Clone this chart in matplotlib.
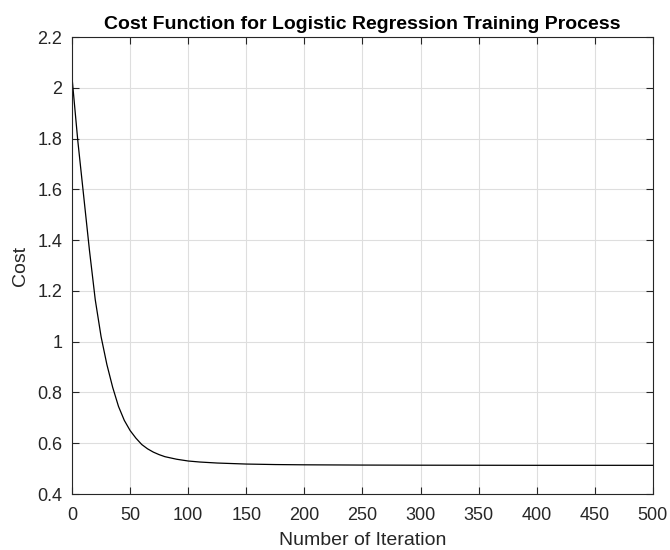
import matplotlib
matplotlib.use("Agg")
import matplotlib.pyplot as plt

plt.rcParams['font.family'] = ['Liberation Sans', 'DejaVu Sans']

# Training cost recorded at selected iterations
iterations = [0, 5, 10, 15, 20, 25, 30, 35, 40, 45, 50, 55, 60, 65, 70, 75, 80,
              90, 100, 110, 125, 150, 175, 200, 250, 300, 400, 500]
cost = [2.04, 1.79, 1.575, 1.36, 1.165, 1.02, 0.91, 0.82, 0.745, 0.69, 0.65,
        0.62, 0.595, 0.578, 0.565, 0.555, 0.547, 0.537, 0.530, 0.526, 0.522,
        0.518, 0.516, 0.515, 0.514, 0.5135, 0.513, 0.513]

xticks = [0, 50, 100, 150, 200, 250, 300, 350, 400, 450, 500]
yticks = [0.4, 0.6, 0.8, 1.0, 1.2, 1.4, 1.6, 1.8, 2.0, 2.2]
ytick_labels = ['0.4', '0.6', '0.8', '1', '1.2', '1.4', '1.6', '1.8', '2', '2.2']

fig = plt.figure(figsize=(6.7, 5.5), dpi=100)
ax = fig.add_axes([0.1075, 0.1018, 0.867, 0.8309])

ax.plot(iterations, cost, color='black', linewidth=0.9)

ax.set_xlim(0, 500)
ax.set_ylim(0.4, 2.2)
ax.set_xticks(xticks)
ax.set_yticks(yticks)
ax.set_yticklabels(ytick_labels)

edge = '#262626'
for s in ax.spines.values():
    s.set_color(edge)
    s.set_linewidth(0.8)
ax.tick_params(direction='in', length=5, width=0.8, color=edge,
               labelcolor='#262626', labelsize=13,
               top=True, right=True)
ax.tick_params(axis='x', pad=9.5)
ax.tick_params(axis='y', pad=7)
ax.grid(True, color='#dedede', linewidth=0.8)
ax.set_axisbelow(True)

ax.set_title('Cost Function for Logistic Regression Training Process',
             fontsize=14, fontweight='bold', color='black', pad=6)
ax.set_xlabel('Number of Iteration', fontsize=14, color='#262626', labelpad=5.5)
ax.set_ylabel('Cost', fontsize=14, color='#262626', labelpad=6)

fig.savefig('out.png', dpi=100)
